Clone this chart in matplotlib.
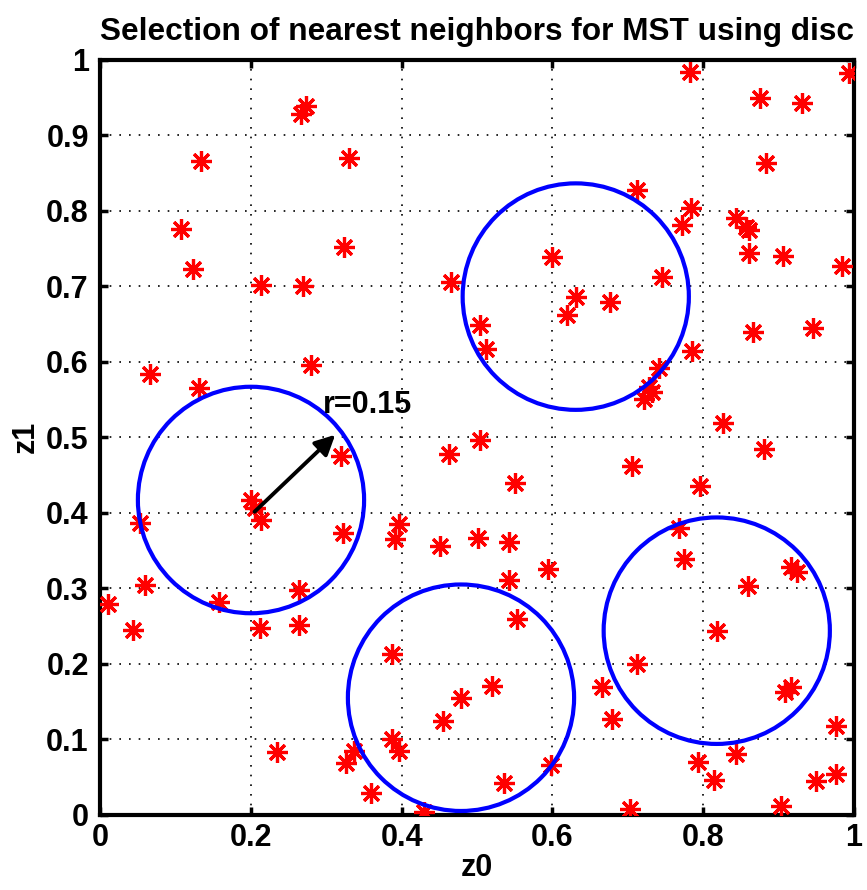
import matplotlib
matplotlib.use('Agg')
import matplotlib.pyplot as plt
from matplotlib.patches import Circle

plt.rcParams['font.family'] = ['Liberation Sans', 'DejaVu Sans']
plt.rcParams['font.weight'] = 'bold'

# random points
z0 = [0.273, 0.267, 0.134, 0.330, 0.107, 0.124, 0.324, 0.2135, 0.269,
      0.782, 0.994, 0.875, 0.931, 0.883, 0.784, 0.772, 0.8435, 0.857, 0.861,
      0.861, 0.906, 0.984, 0.712, 0.600, 0.465, 0.745, 0.631, 0.676, 0.620,
      0.0663, 0.131, 0.280, 0.320, 0.2003, 0.2056, 0.213, 0.053, 0.322,
      0.504, 0.512, 0.742, 0.7315, 0.7285, 0.722, 0.504, 0.463, 0.551, 0.7056,
      0.397, 0.391, 0.451, 0.501, 0.542,
      0.8655, 0.9456, 0.7856, 0.826, 0.881, 0.796, 0.768, 0.775,
      0.0597, 0.0102, 0.0433, 0.1574, 0.2644, 0.2644, 0.2122, 0.2343,
      0.337, 0.326, 0.360,
      0.5937, 0.543, 0.5535, 0.3868, 0.7117, 0.5194, 0.4788, 0.4545, 0.6653,
      0.6795, 0.3868, 0.397, 0.5977, 0.5362, 0.430, 0.703,
      0.917, 0.924, 0.859, 0.818, 0.9085, 0.917, 0.976, 0.843, 0.7927,
      0.8147, 0.949, 0.9757, 0.903]
z1 = [0.938, 0.928, 0.866, 0.870, 0.776, 0.723, 0.752, 0.702, 0.700,
      0.984, 0.9825, 0.949, 0.942, 0.8625, 0.804, 0.781, 0.790, 0.7785, 0.774,
      0.744, 0.740, 0.7265, 0.827, 0.739, 0.705, 0.712, 0.686, 0.679, 0.661,
      0.583, 0.565, 0.595, 0.475, 0.4166, 0.4055, 0.390, 0.3865, 0.373,
      0.648, 0.616, 0.591, 0.560, 0.566, 0.551, 0.496, 0.477, 0.4395, 0.462,
      0.385, 0.3645, 0.3556, 0.366, 0.361,
      0.6395, 0.645, 0.614, 0.518, 0.484, 0.4355, 0.380, 0.339,
      0.304, 0.279, 0.245, 0.282, 0.298, 0.2506, 0.2466, 0.0824,
      0.084, 0.0686, 0.029,
      0.325, 0.3106, 0.2585, 0.2126, 0.1993, 0.1706, 0.1547, 0.1243, 0.1685,
      0.1265, 0.100, 0.084, 0.0656, 0.042, 0.0037, 0.0069,
      0.328, 0.3216, 0.3026, 0.2435, 0.1627, 0.1685, 0.1176, 0.080, 0.0695,
      0.0457, 0.0448, 0.0536, 0.0117]

# selected disc centres
disc_x = [0.2003, 0.631, 0.4788, 0.818]
disc_y = [0.4166, 0.686, 0.1547, 0.2435]
radius = 0.15

fig = plt.figure(figsize=(8.67, 8.9), dpi=100)
ax = fig.add_axes([0.1153, 0.0848, 0.8697, 0.8483])

ax.plot(z0, z1, linestyle='none', marker=(8, 2, 0), markersize=15,
        markeredgewidth=2.3, color='red', zorder=3)

for cx, cy in zip(disc_x, disc_y):
    ax.add_patch(Circle((cx, cy), radius, fill=False, edgecolor='blue',
                        linewidth=3, zorder=4))

ax.annotate('', xy=(0.312, 0.503), xytext=(0.205, 0.401),
            arrowprops=dict(arrowstyle='-|>', color='black', lw=2.8,
                            mutation_scale=30, shrinkA=0, shrinkB=0), zorder=5)
ax.text(0.296, 0.543, 'r=0.15', fontsize=22, fontweight='bold',
        ha='left', va='center', zorder=5)

ax.set_xlim(0, 1)
ax.set_ylim(0, 1)
ax.set_xticks([0, 0.2, 0.4, 0.6, 0.8, 1])
ax.set_xticklabels(['0', '0.2', '0.4', '0.6', '0.8', '1'])
ax.set_yticks([i / 10 for i in range(11)])
ax.set_yticklabels(['0', '0.1', '0.2', '0.3', '0.4', '0.5', '0.6', '0.7',
                    '0.8', '0.9', '1'])
ax.tick_params(direction='in', length=6, width=2.5, labelsize=22,
               top=True, right=True, pad=8)
ax.tick_params(axis='x', pad=6)
ax.grid(True, color='black', linestyle=(0, (1, 4.8)), linewidth=1.2)
for s in ax.spines.values():
    s.set_linewidth(3)

ax.set_xlabel('z0', fontsize=22, fontweight='bold', labelpad=0)
ax.set_ylabel('z1', fontsize=22, fontweight='bold', labelpad=4)
ax.set_title('Selection of nearest neighbors for MST using disc',
             fontsize=22.8, fontweight='bold', pad=14)

fig.savefig('out.png', dpi=100)
